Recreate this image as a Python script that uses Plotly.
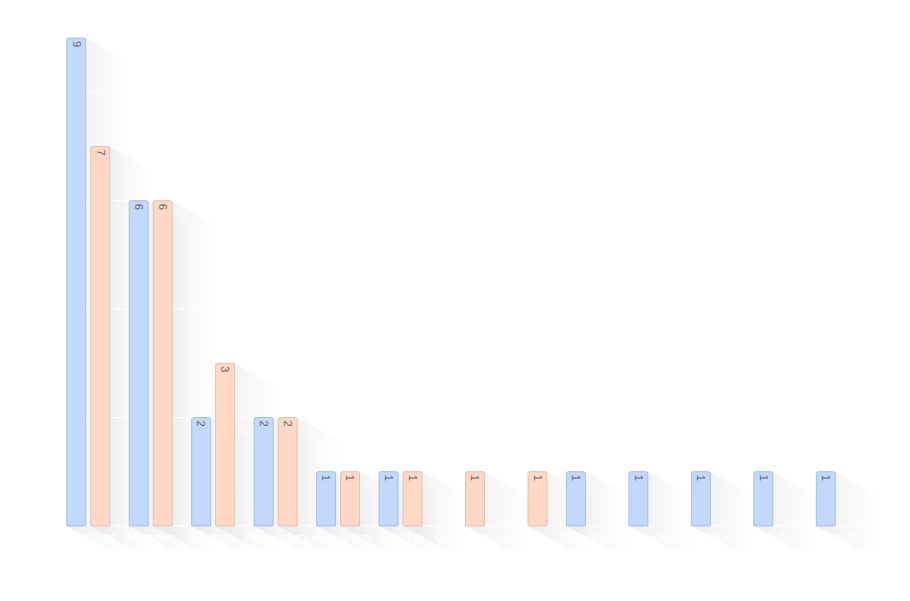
import plotly.graph_objects as go

# Kategorien und Werte
categories = ["Dordrecht", "Heusden", "Bussum", "Amsterdam", "Leeuwarden", "Veldniel",
              "Groningen", "Haarlem", "Katholisch", "Schiedam", "Echtein", "Tiel", "Utrecht"]
series_a = [9, 6, 2, 2, 1, 1, None, None, 1, 1, 1, 1, 1]
series_b = [7, 6, 3, 2, 1, 1, 1, 1, None, None, None, None, None]

blue_fill, blue_line = "#c3d8fd", "#a6bfea"
orange_fill, orange_line = "#fed8c4", "#e6c0ad"

x = list(range(len(categories)))
y_range = [-0.5, 9.02]
x_range = [-0.5, len(categories) - 0.5]

# Balkenbereich 812px breit, Achse rechts etwas länger, damit Schatten nicht abgeschnitten werden
bar_px, shadow_px = 812, 841
x_range_ext = [-0.5, -0.5 + len(categories) * shadow_px / bar_px]

# bar geometry in axis units (used for the drop shadows)
bargap = 0.232
bargroupgap = 0.21
slot = (1 - bargap) / 2
bar_w = slot * (1 - bargroupgap)
shadow_dx, shadow_dy = 0.72, 0.46

fig = go.Figure()

# Schatten hinter den Balken (main subplot)
def add_shadow(xc, value, rgb):
    xl, xr = xc - bar_w / 2, xc + bar_w / 2
    px_ = [xl, xr, xr + shadow_dx, xr + shadow_dx, xl + shadow_dx, xl, xl]
    py_ = [value, value, value - shadow_dy, -shadow_dy, -shadow_dy, 0, value]
    fig.add_trace(go.Scatter(
        x=px_, y=py_, mode="lines", fill="toself", line=dict(width=0),
        fillgradient=dict(type="horizontal",
                          colorscale=[[0, f"rgba({rgb},0.12)"], [1, f"rgba({rgb},0)"]]),
        hoverinfo="skip", showlegend=False, xaxis="x", yaxis="y"))

for i, v in enumerate(series_a):
    if v is not None:
        add_shadow(i - slot / 2, v, "110,120,150")
for i, v in enumerate(series_b):
    if v is not None:
        add_shadow(i + slot / 2, v, "140,120,110")

# weisse Gitterlinien über den Schatten
for g in range(0, 9, 2):
    fig.add_trace(go.Scatter(x=x_range, y=[g, g], mode="lines",
                             line=dict(color="rgba(255,255,255,0.9)", width=1),
                             hoverinfo="skip", showlegend=False, xaxis="x", yaxis="y"))

# Balken (overlay subplot, liegt über den Schatten)
fig.add_trace(go.Bar(
    x=x, y=series_a, name="A", xaxis="x2", yaxis="y2",
    marker=dict(color=blue_fill, line=dict(color=blue_line, width=1), cornerradius=2),
    text=[str(v) if v is not None else "" for v in series_a],
    textposition="inside", insidetextanchor="end", textangle=90,
    textfont=dict(color="#666666", size=12, family="Arial")))
fig.add_trace(go.Bar(
    x=x, y=series_b, name="B", xaxis="x2", yaxis="y2",
    marker=dict(color=orange_fill, line=dict(color=orange_line, width=1), cornerradius=2),
    text=[str(v) if v is not None else "" for v in series_b],
    textposition="inside", insidetextanchor="end", textangle=90,
    textfont=dict(color="#666666", size=12, family="Arial")))

# Kategorie-Beschriftungen (weiss)
for i, c in enumerate(categories):
    fig.add_annotation(x=i, y=0, xref="x2", yref="y2", text=c, showarrow=False,
                       yanchor="top", yshift=-3,
                       font=dict(color="#ffffff", size=12, family="Arial"))

# Seite hat 8px Body-Rand -> Ränder entsprechend verschoben
fig.update_layout(
    width=910, height=601,
    margin=dict(l=49, r=20, t=29, b=56),
    paper_bgcolor="white", plot_bgcolor="white",
    showlegend=False,
    barmode="group", bargap=bargap, bargroupgap=bargroupgap,
    xaxis=dict(range=x_range_ext, visible=False),
    yaxis=dict(range=y_range, visible=False),
    xaxis2=dict(range=x_range_ext, overlaying="x", visible=False),
    yaxis2=dict(range=y_range, overlaying="y", visible=False),
)

fig.write_html("out.html")
